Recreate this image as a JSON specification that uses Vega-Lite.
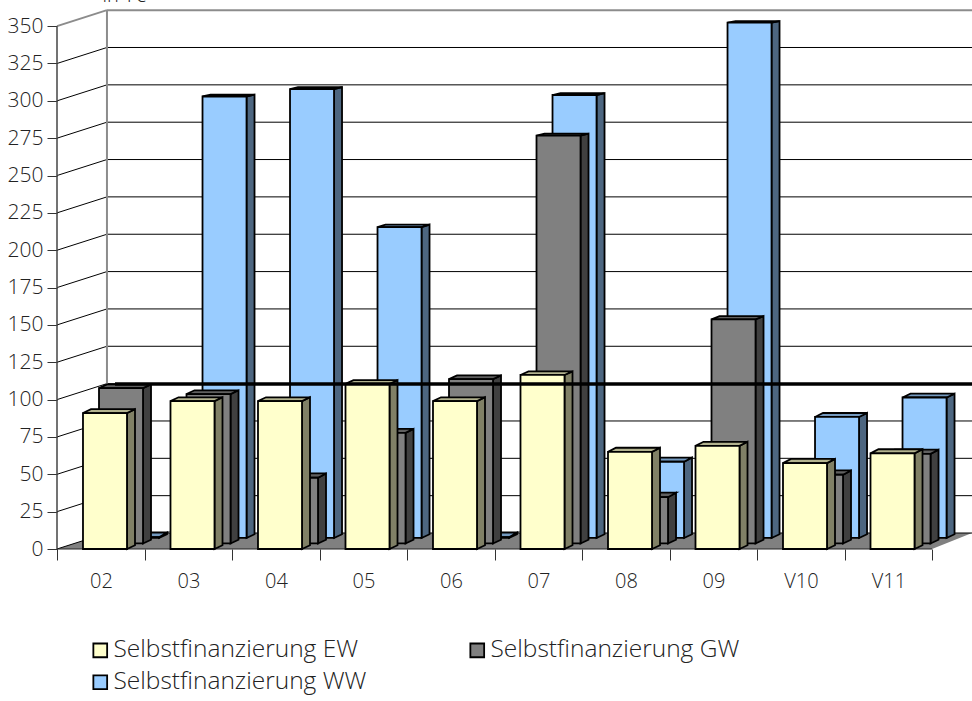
{
"$schema":"https://vega.github.io/schema/vega-lite/v6.json",
"width":915,"height":539,
"autosize":{"type":"none"},
"padding":{"left":57,"top":10,"right":0,"bottom":152},
"background":"white",
"config":{"view":{"stroke":null},"font":"Open Sans"},
"datasets":{
"balken":[
{"jahr":"02","reihe":"Selbstfinanzierung EW","wert":91},{"jahr":"03","reihe":"Selbstfinanzierung EW","wert":99},{"jahr":"04","reihe":"Selbstfinanzierung EW","wert":99},{"jahr":"05","reihe":"Selbstfinanzierung EW","wert":110.5},{"jahr":"06","reihe":"Selbstfinanzierung EW","wert":99},{"jahr":"07","reihe":"Selbstfinanzierung EW","wert":116.5},{"jahr":"08","reihe":"Selbstfinanzierung EW","wert":65},{"jahr":"09","reihe":"Selbstfinanzierung EW","wert":69},{"jahr":"V10","reihe":"Selbstfinanzierung EW","wert":57.5},{"jahr":"V11","reihe":"Selbstfinanzierung EW","wert":64},
{"jahr":"02","reihe":"Selbstfinanzierung GW","wert":104},{"jahr":"03","reihe":"Selbstfinanzierung GW","wert":100},{"jahr":"04","reihe":"Selbstfinanzierung GW","wert":44},{"jahr":"05","reihe":"Selbstfinanzierung GW","wert":74},{"jahr":"06","reihe":"Selbstfinanzierung GW","wert":110},{"jahr":"07","reihe":"Selbstfinanzierung GW","wert":273},{"jahr":"08","reihe":"Selbstfinanzierung GW","wert":31},{"jahr":"09","reihe":"Selbstfinanzierung GW","wert":150},{"jahr":"V10","reihe":"Selbstfinanzierung GW","wert":46},{"jahr":"V11","reihe":"Selbstfinanzierung GW","wert":60},
{"jahr":"02","reihe":"Selbstfinanzierung WW","wert":0.5},{"jahr":"03","reihe":"Selbstfinanzierung WW","wert":295.5},{"jahr":"04","reihe":"Selbstfinanzierung WW","wert":300.5},{"jahr":"05","reihe":"Selbstfinanzierung WW","wert":208},{"jahr":"06","reihe":"Selbstfinanzierung WW","wert":0.5},{"jahr":"07","reihe":"Selbstfinanzierung WW","wert":296.5},{"jahr":"08","reihe":"Selbstfinanzierung WW","wert":51},{"jahr":"09","reihe":"Selbstfinanzierung WW","wert":345},{"jahr":"V10","reihe":"Selbstfinanzierung WW","wert":81},{"jahr":"V11","reihe":"Selbstfinanzierung WW","wert":94}
],
"gitter":[{"wert":0},{"wert":25},{"wert":50},{"wert":75},{"wert":100},{"wert":125},{"wert":150},{"wert":175},{"wert":200},{"wert":225},{"wert":250},{"wert":275},{"wert":300},{"wert":325}],
"oben":[{"wert":350}],
"linie":[{"wert":110.4}],
"ecken":[{"k":0},{"k":1},{"k":2},{"k":3}]
},
"encoding":{
"x":{"field":"px","type":"quantitative","scale":{"domain":[0,10.457],"nice":false,"zero":false},
"axis":{"title":null,"grid":false,"domain":false,"values":[0,1,2,3,4,5,6,7,8,9,10],"tickSize":11,"tickColor":"#333333","tickWidth":1,
"labelExpr":"['02','03','04','05','06','07','08','09','V10','V11',''][datum.value]","labelFontSize":20,"labelFontWeight":300,"labelColor":"#222222","labelOffset":44,"labelPadding":11,"labelBound":false,"labelFlush":false,"labelOverlap":false}},
"y":{"field":"py","type":"quantitative","scale":{"domain":[0,360.8],"nice":false,"zero":false},
"axis":{"title":"in T€","titleAngle":0,"titleX":45,"titleY":-9,"titleAlign":"left","titleBaseline":"alphabetic","titleFontSize":20,"titleFontWeight":300,"titleColor":"#222222","grid":false,"domain":false,"values":[0,25,50,75,100,125,150,175,200,225,250,275,300,325,350],"tickSize":10,"tickColor":"#333333","tickWidth":1,"labelFontSize":21,"labelFontWeight":300,"labelColor":"#222222","labelPadding":4,"labelOverlap":false,"labelBound":false,"labelFlush":false}}
},
"layer":[
{"data":{"name":"ecken"},
 "transform":[{"calculate":"[0,0.571,10,10.457][datum.k]","as":"px"},{"calculate":"[0,0,0,10.7][datum.k]","as":"py"},{"calculate":"[0,10.7,10.7,10.7][datum.k]","as":"py2"}],
 "mark":{"type":"area","fill":"#808080","stroke":null},
 "encoding":{"y2":{"field":"py2"}}},
{"data":{"name":"gitter"},
 "transform":[{"calculate":"0.571","as":"px"},{"calculate":"10.457","as":"px2"},{"calculate":"datum.wert+10.7","as":"py"}],
 "mark":{"type":"rule","color":"black","strokeWidth":1},
 "encoding":{"x2":{"field":"px2"}}},
{"data":{"name":"gitter"},
 "transform":[{"calculate":"0","as":"px"},{"calculate":"0.571","as":"px2"},{"calculate":"datum.wert","as":"py"},{"calculate":"datum.wert+10.7","as":"py2"}],
 "mark":{"type":"rule","color":"black","strokeWidth":1},
 "encoding":{"x2":{"field":"px2"},"y2":{"field":"py2"}}},
{"data":{"name":"oben"},
 "transform":[{"calculate":"0.571","as":"px"},{"calculate":"10.457","as":"px2"},{"calculate":"datum.wert+10.7","as":"py"}],
 "mark":{"type":"rule","color":"#8c8c8c","strokeWidth":2},
 "encoding":{"x2":{"field":"px2"}}},
{"data":{"name":"oben"},
 "transform":[{"calculate":"0","as":"px"},{"calculate":"0.571","as":"px2"},{"calculate":"datum.wert","as":"py"},{"calculate":"datum.wert+10.7","as":"py2"}],
 "mark":{"type":"rule","color":"#8c8c8c","strokeWidth":2},
 "encoding":{"x2":{"field":"px2"},"y2":{"field":"py2"}}},
{"data":{"name":"oben"},
 "transform":[{"calculate":"0.571","as":"px"},{"calculate":"10.7","as":"py"},{"calculate":"datum.wert+10.7","as":"py2"}],
 "mark":{"type":"rule","color":"#8c8c8c","strokeWidth":2},
 "encoding":{"y2":{"field":"py2"}}},
{"data":{"name":"oben"},
 "transform":[{"calculate":"0","as":"px"},{"calculate":"0","as":"py"},{"calculate":"datum.wert","as":"py2"}],
 "mark":{"type":"rule","color":"#444444","strokeWidth":1.5},
 "encoding":{"y2":{"field":"py2"}}},
{"data":{"name":"oben"},
 "transform":[{"calculate":"0","as":"px"},{"calculate":"10","as":"px2"},{"calculate":"0","as":"py"}],
 "mark":{"type":"rule","color":"#222222","strokeWidth":1},
 "encoding":{"x2":{"field":"px2"}}},

{"data":{"name":"balken"},
 "transform":[{"filter":"datum.reihe=='Selbstfinanzierung WW'"},
  {"calculate":"indexof(['02','03','04','05','06','07','08','09','V10','V11'],datum.jahr)+0.297+2*0.183","as":"x0"},
  {"calculate":"datum.x0+0.503","as":"x1"},{"calculate":"2*3.7","as":"b"},{"calculate":"datum.b+datum.wert","as":"t"},{"calculate":"3.2-datum.t*0.0065","as":"d"}],
 "layer":[
  {"transform":[{"calculate":"[0,1]","as":"k"},{"flatten":["k"]},{"calculate":"datum.x1+datum.k*0.0914","as":"px"},{"calculate":"datum.b+datum.k*2.5","as":"py"},{"calculate":"datum.t+datum.k*datum.d","as":"py2"}],
   "mark":{"type":"area","fill":"#4d6680","stroke":"black","strokeWidth":1.8},
   "encoding":{"y2":{"field":"py2"},"detail":{"field":"jahr"}}},
  {"transform":[{"calculate":"[0,1,2,3]","as":"k"},{"flatten":["k"]},{"calculate":"[datum.x0,datum.x0+0.0914,datum.x1,datum.x1+0.0914][datum.k]","as":"px"},{"calculate":"datum.k==3?datum.t+datum.d:datum.t","as":"py"},{"calculate":"datum.k==0?datum.t:datum.t+datum.d","as":"py2"}],
   "mark":{"type":"area","fill":"#7399bf","stroke":"black","strokeWidth":1.8},
   "encoding":{"y2":{"field":"py2"},"detail":{"field":"jahr"}}},
  {"transform":[{"calculate":"datum.x0","as":"px"},{"calculate":"datum.b","as":"py"}],
   "mark":{"type":"bar","stroke":"black","strokeWidth":1.8},
   "encoding":{"x2":{"field":"x1"},"y2":{"field":"t"},"color":{"field":"reihe","type":"nominal","scale":{"domain":["Selbstfinanzierung EW","Selbstfinanzierung GW","Selbstfinanzierung WW"],"range":["#ffffcc","#808080","#99ccff"]},
    "legend":{"title":null,"orient":"none","direction":"horizontal","legendX":31,"legendY":628,"columns":2,"columnPadding":98,"rowPadding":7,"symbolType":"square","symbolSize":190,"symbolStrokeColor":"black","symbolStrokeWidth":1.8,"symbolOpacity":1,"labelFontSize":24.5,"labelFontWeight":300,"labelColor":"#222222","labelOffset":1,"labelLimit":400}}}}
 ]},
{"data":{"name":"balken"},
 "transform":[{"filter":"datum.reihe=='Selbstfinanzierung GW'"},
  {"calculate":"indexof(['02','03','04','05','06','07','08','09','V10','V11'],datum.jahr)+0.297+0.183","as":"x0"},
  {"calculate":"datum.x0+0.503","as":"x1"},{"calculate":"3.7","as":"b"},{"calculate":"datum.b+datum.wert","as":"t"},{"calculate":"3.2-datum.t*0.0065","as":"d"}],
 "layer":[
  {"transform":[{"calculate":"[0,1]","as":"k"},{"flatten":["k"]},{"calculate":"datum.x1+datum.k*0.0914","as":"px"},{"calculate":"datum.b+datum.k*2.5","as":"py"},{"calculate":"datum.t+datum.k*datum.d","as":"py2"}],
   "mark":{"type":"area","fill":"#404040","stroke":"black","strokeWidth":1.8},
   "encoding":{"y2":{"field":"py2"},"detail":{"field":"jahr"}}},
  {"transform":[{"calculate":"[0,1,2,3]","as":"k"},{"flatten":["k"]},{"calculate":"[datum.x0,datum.x0+0.0914,datum.x1,datum.x1+0.0914][datum.k]","as":"px"},{"calculate":"datum.k==3?datum.t+datum.d:datum.t","as":"py"},{"calculate":"datum.k==0?datum.t:datum.t+datum.d","as":"py2"}],
   "mark":{"type":"area","fill":"#606060","stroke":"black","strokeWidth":1.8},
   "encoding":{"y2":{"field":"py2"},"detail":{"field":"jahr"}}},
  {"transform":[{"calculate":"datum.x0","as":"px"},{"calculate":"datum.b","as":"py"}],
   "mark":{"type":"bar","stroke":"black","strokeWidth":1.8},
   "encoding":{"x2":{"field":"x1"},"y2":{"field":"t"},"color":{"field":"reihe","type":"nominal"}}}
 ]},
{"data":{"name":"balken"},
 "transform":[{"filter":"datum.reihe=='Selbstfinanzierung EW'"},
  {"calculate":"indexof(['02','03','04','05','06','07','08','09','V10','V11'],datum.jahr)+0.297","as":"x0"},
  {"calculate":"datum.x0+0.503","as":"x1"},{"calculate":"0","as":"b"},{"calculate":"datum.b+datum.wert","as":"t"},{"calculate":"3.2-datum.t*0.0065","as":"d"}],
 "layer":[
  {"transform":[{"calculate":"[0,1]","as":"k"},{"flatten":["k"]},{"calculate":"datum.x1+datum.k*0.0914","as":"px"},{"calculate":"datum.b+datum.k*2.5","as":"py"},{"calculate":"datum.t+datum.k*datum.d","as":"py2"}],
   "mark":{"type":"area","fill":"#808066","stroke":"black","strokeWidth":1.8},
   "encoding":{"y2":{"field":"py2"},"detail":{"field":"jahr"}}},
  {"transform":[{"calculate":"[0,1,2,3]","as":"k"},{"flatten":["k"]},{"calculate":"[datum.x0,datum.x0+0.0914,datum.x1,datum.x1+0.0914][datum.k]","as":"px"},{"calculate":"datum.k==3?datum.t+datum.d:datum.t","as":"py"},{"calculate":"datum.k==0?datum.t:datum.t+datum.d","as":"py2"}],
   "mark":{"type":"area","fill":"#b3b38f","stroke":"black","strokeWidth":1.8},
   "encoding":{"y2":{"field":"py2"},"detail":{"field":"jahr"}}},
  {"transform":[{"calculate":"datum.x0","as":"px"},{"calculate":"datum.b","as":"py"}],
   "mark":{"type":"bar","stroke":"black","strokeWidth":1.8},
   "encoding":{"x2":{"field":"x1"},"y2":{"field":"t"},"color":{"field":"reihe","type":"nominal"}}}
 ]},
{"data":{"name":"linie"},
 "transform":[{"calculate":"0.663","as":"px"},{"calculate":"10.457","as":"px2"},{"calculate":"datum.wert","as":"py"}],
 "mark":{"type":"rule","color":"black","strokeWidth":3.5},
 "encoding":{"x2":{"field":"px2"}}}
]
}
